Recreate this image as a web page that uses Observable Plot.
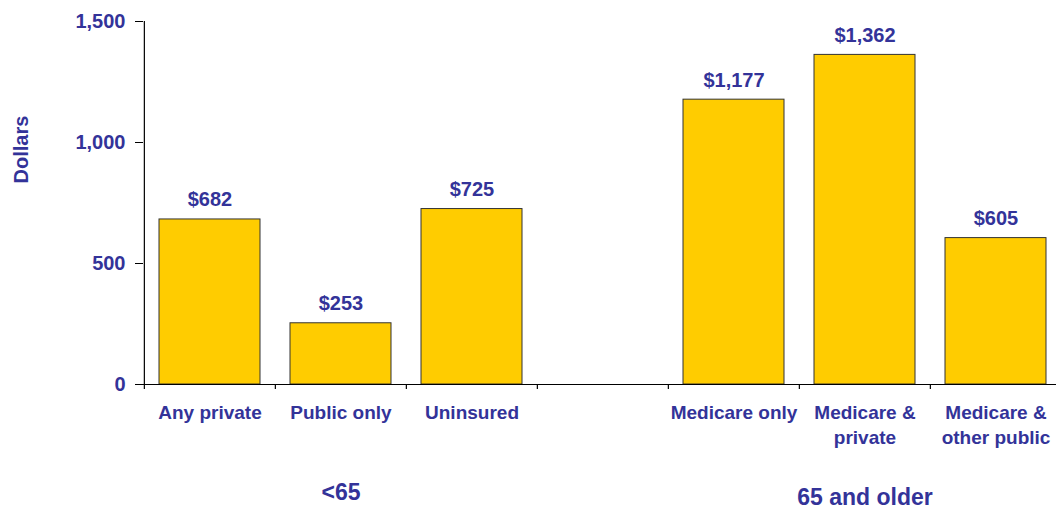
<!DOCTYPE html>
<html>
<head>
<meta charset="utf-8">
<script src="https://cdn.jsdelivr.net/npm/d3@7"></script>
<script src="https://cdn.jsdelivr.net/npm/@observablehq/plot@0.6"></script>
<style>
  html, body { margin: 0; padding: 0; background: #fff; }
  #chart svg { display: block; }
</style>
</head>
<body>
<div id="chart"></div>
<script>
// Data
const categories = ["Any private", "Public only", "Uninsured", " ", "Medicare only", "Medicare &\nprivate", "Medicare &\nother public"];
const barCategories = ["Any private", "Public only", "Uninsured", "Medicare only", "Medicare &\nprivate", "Medicare &\nother public"];
const values = [682, 253, 725, 1177, 1362, 605];
const yTicks = [0, 500, 1000, 1500];
const groupLabels = ["<65", "65 and older"];
const groupAt = ["Public only", "Medicare &\nprivate"];
const yLabel = "Dollars";

(function () {
const data = barCategories.map((c, i) => ({cat: c, value: values[i]}));
const groups = groupLabels.map((g, i) => ({label: g, cat: groupAt[i]}));

const W = 1056, H = 510;
const mLeft = 143, rightEnd = 1062, mTop = 21, mBottom = 126;
const step = (rightEnd - mLeft) / categories.length;
const textColor = "#333399";
const font = "'Liberation Sans', Arial, Helvetica, sans-serif";
const fmt = d3.format(",");

const plot = Plot.plot({
  width: W,
  height: H,
  marginLeft: mLeft,
  marginRight: 0,
  marginTop: mTop,
  marginBottom: mBottom,
  style: {fontFamily: font, fontWeight: "bold", fontSize: "19px", background: "#fff", overflow: "visible"},
  x: {domain: categories, range: [mLeft, rightEnd], paddingInner: 0.23, paddingOuter: 0.115},
  y: {domain: [0, 1500]},
  marks: [
    Plot.barY(data, {x: "cat", y: "value", fill: "#FFCC00", stroke: "#333333", strokeWidth: 1}),
    // axis lines
    Plot.ruleY([0], {stroke: "black", strokeWidth: 1.2}),
    Plot.ruleX([categories[0]], {dx: -step / 2, stroke: "black", strokeWidth: 1.2}),
    // x boundary ticks
    Plot.ruleX(categories, {y1: 0, y2: 0, insetBottom: -5, dx: -step / 2, stroke: "black", strokeWidth: 1.2}),
    Plot.axisY({ticks: yTicks, tickFormat: fmt, tickSize: 8, tickPadding: 10, label: null,
      stroke: "black", fill: textColor, fontSize: 20, fontWeight: "bold"}),
    Plot.axisX({tickSize: 0, tickPadding: 17, label: null, lineHeight: 1.3,
      fill: textColor, fontSize: 19, fontWeight: "bold"}),
    // value labels
    Plot.text(data, {x: "cat", y: "value", text: d => "$" + fmt(d.value), lineAnchor: "bottom", dy: -13,
      fill: textColor, fontSize: 20, fontWeight: "bold"}),
    // group labels
    Plot.text([groups[0]], {x: "cat", y: () => 0, text: "label", lineAnchor: "bottom", dy: 115,
      fill: textColor, fontSize: 23, fontWeight: "bold"}),
    Plot.text([groups[1]], {x: "cat", y: () => 0, text: "label", lineAnchor: "bottom", dy: 120,
      fill: textColor, fontSize: 23, fontWeight: "bold"}),
    // y label
    Plot.text([yLabel], {frameAnchor: "top-left", textAnchor: "middle", lineAnchor: "middle",
      dx: 21.5 - mLeft, dy: 149 - mTop, rotate: -90,
      fill: textColor, fontSize: 20, fontWeight: "bold"})
  ]
});
document.getElementById("chart").appendChild(plot);
})();
</script>
</body>
</html>
